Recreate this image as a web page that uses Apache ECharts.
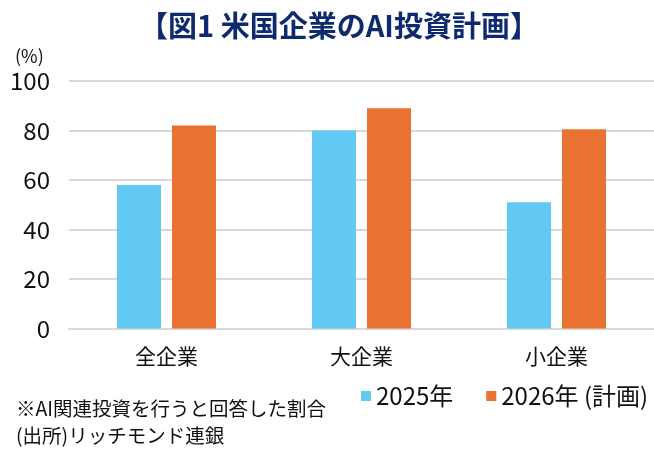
<!DOCTYPE html>
<html>
<head>
<meta charset="utf-8">
<script src="https://cdn.jsdelivr.net/npm/echarts@6/dist/echarts.min.js"></script>
<style>
	html, body { margin: 0; padding: 0; background: #fff; }
	#chart { width: 654px; height: 454px; }
</style>
</head>
<body>
<div id="chart"></div>
<script>
const categories = ['全企業', '大企業', '小企業']
const seriesNames = ['2025年', '2026年 (計画)']
const values2025 = [58, 80, 51]
const values2026 = [82, 89, 80.5]
const yTicks = { min: 0, max: 100, interval: 20 }

const FONT = '"Noto Sans CJK JP", "Noto Sans", sans-serif'

$chart = () => {
	const chart = echarts.init(document.getElementById('chart'), null, { renderer: 'canvas' })

	const option = {
		backgroundColor: '#fff',
		textStyle: { fontFamily: FONT },
		animation: false,
		color: ['#61C9F3', '#E97132'],
		grid: {
			left: 69,
			right: 0,
			top: 81,
			bottom: 125.5,
		},
		legend: {
			left: 356,
			top: 379,
			itemWidth: 10,
			itemHeight: 10,
			itemGap: 33,
			icon: 'rect',
			textStyle: { fontSize: 24, color: '#111', fontFamily: FONT },
			data: seriesNames,
		},
		xAxis: {
			type: 'category',
			data: categories,
			axisTick: { show: false },
			axisLine: { lineStyle: { color: '#d9d9d9', width: 2 } },
			axisLabel: { fontSize: 21, color: '#111', margin: 17, fontFamily: FONT },
		},
		yAxis: {
			type: 'value',
			min: yTicks.min,
			max: yTicks.max,
			interval: yTicks.interval,
			axisLine: { show: false },
			axisTick: { show: false },
			axisLabel: { fontSize: 24, color: '#111', margin: 19, fontFamily: FONT },
			splitLine: { lineStyle: { color: '#d9d9d9', width: 2 } },
		},
		series: [
			{
				name: seriesNames[0],
				type: 'bar',
				barWidth: 44,
				barGap: '25%',
				data: values2025,
			},
			{
				name: seriesNames[1],
				type: 'bar',
				barWidth: 44,
				barGap: '25%',
				data: values2026,
			},
		],
		graphic: [
			// title
			{
				type: 'text',
				style: {
					text: '【図1 米国企業のAI投資計画】',
					x: 339,
					y: 26,
					align: 'center',
					verticalAlign: 'middle',
					font: 'bold 29px ' + FONT,
					fill: '#0E2A6E',
				},
			},
			// unit
			{
				type: 'text',
				style: {
					text: '(%)',
					x: 15,
					y: 56,
					verticalAlign: 'middle',
					font: '18px ' + FONT,
					fill: '#111',
				},
			},
			// notes
			{
				type: 'text',
				style: {
					text: '※AI関連投資を行うと回答した割合',
					x: 16,
					y: 409,
					verticalAlign: 'middle',
					font: '19.5px ' + FONT,
					fill: '#111',
				},
			},
			{
				type: 'text',
				style: {
					text: '(出所)リッチモンド連銀',
					x: 16,
					y: 436,
					verticalAlign: 'middle',
					font: '19.5px ' + FONT,
					fill: '#111',
				},
			},
		],
	}

	chart.setOption(option)
}

$chart()
</script>
</body>
</html>
